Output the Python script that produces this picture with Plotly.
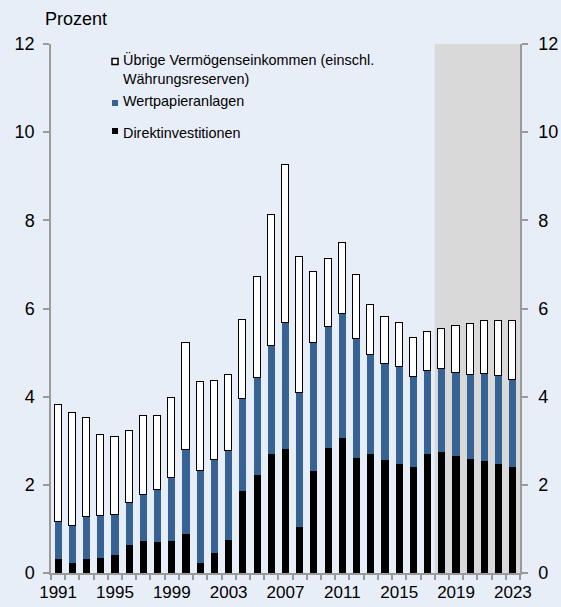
import plotly.graph_objects as go

years = list(range(1991, 2024))
direkt = [0.32, 0.23, 0.32, 0.35, 0.41, 0.63, 0.72, 0.70, 0.72, 0.88, 0.23, 0.45, 0.76,
          1.86, 2.23, 2.69, 2.82, 1.05, 2.31, 2.84, 3.07, 2.61, 2.70, 2.57, 2.48, 2.41,
          2.69, 2.74, 2.66, 2.59, 2.54, 2.48, 2.40]
wertpapier = [0.83, 0.83, 0.94, 0.95, 0.90, 0.95, 1.05, 1.19, 1.43, 1.90, 2.09, 2.11, 2.00,
              2.09, 2.20, 2.45, 2.84, 3.03, 2.91, 2.74, 2.81, 2.70, 2.24, 2.18, 2.19, 2.04,
              1.89, 1.89, 1.87, 1.90, 1.97, 1.98, 1.98]
uebrige = [2.65, 2.58, 2.26, 1.82, 1.78, 1.64, 1.79, 1.67, 1.81, 2.44, 2.02, 1.80, 1.74,
           1.79, 2.29, 2.97, 3.59, 3.09, 1.60, 1.55, 1.60, 1.44, 1.15, 1.06, 1.01, 0.89,
           0.89, 0.91, 1.08, 1.16, 1.20, 1.26, 1.33]
tick_years = [1991, 1995, 1999, 2003, 2007, 2011, 2015, 2019, 2023]
y_ticks = [0, 2, 4, 6, 8, 10, 12]
shade_start, shade_end = 2017.5, 2023.5

legend_labels = ["Übrige Vermögenseinkommen (einschl.<br>Währungsreserven)",
                 "Wertpapieranlagen", "Direktinvestitionen"]

BG = "#E8EEF7"
BLUE = "#376294"
AXC = "#9A9A9A"
FONT = "Liberation Sans, Arial, sans-serif"

fig = go.Figure()
fig.add_bar(x=years, y=direkt, marker=dict(color="#000000", line=dict(width=0)), width=0.5,
            name="Direktinvestitionen", showlegend=False)
fig.add_bar(x=years, y=wertpapier, marker=dict(color=BLUE, line=dict(width=0)), width=0.5,
            name="Wertpapieranlagen", showlegend=False)
fig.add_bar(x=years, y=uebrige, marker=dict(color="#FFFFFF", line=dict(width=1.5, color="#000000")),
            width=0.5, name="Übrige", showlegend=False)
# empty helper trace so the right-hand axis is drawn
fig.add_scatter(x=[None], y=[None], yaxis="y2", mode="markers", showlegend=False, hoverinfo="skip")

L, R, T, B = 51, 41, 44, 34
W, H = 561, 607
pw, ph = W - L - R, H - T - B

def px(x):
    return (x - L) / pw

def py(y):
    return (H - B - y) / ph

fig.add_shape(type="rect", xref="x", yref="y", x0=shade_start, x1=shade_end, y0=0, y1=12,
              fillcolor="#D9D9D9", line=dict(width=0), layer="below")

# legend (manual)
leg_items = [(61.5, "#FFFFFF", 1.5), (103, BLUE, 0), (131, "#000000", 0)]
text_y = [69, 100.5, 132.5]
for (cy, col, lw), ty, lab in zip(leg_items, text_y, legend_labels):
    fig.add_shape(type="rect", xref="paper", yref="paper",
                  x0=px(112), x1=px(118), y0=py(cy + 3), y1=py(cy - 3),
                  fillcolor=col, line=dict(width=lw, color="#000000"))
    fig.add_annotation(xref="paper", yref="paper", x=px(121), y=py(ty), text=lab,
                       showarrow=False, xanchor="left", yanchor="middle", align="left",
                       font=dict(size=14.4, color="#000000", family=FONT))

fig.add_annotation(xref="paper", yref="paper", x=px(43), y=py(19), text="Prozent",
                   showarrow=False, xanchor="left", yanchor="middle",
                   font=dict(size=18, color="#000000", family=FONT))

fig.update_layout(
    width=W, height=H, margin=dict(l=L, r=R, t=T, b=B, autoexpand=False),
    paper_bgcolor=BG, plot_bgcolor=BG, barmode="stack", bargap=0,
    font=dict(family=FONT, color="#000000"),
    xaxis=dict(range=[1990.5, 2023.5], tickvals=tick_years, ticktext=[str(y) for y in tick_years],
               ticks="outside", ticklen=0, showgrid=False, zeroline=False, automargin=False,
               showline=True, linecolor=AXC, linewidth=1.5, ticklabelstandoff=3,
               tickfont=dict(size=17, family=FONT, color="#000000"),
               minor=dict(tick0=0.5, dtick=1, ticks="outside", ticklen=5, tickcolor=AXC, tickwidth=1.5,
                          showgrid=False)),
    yaxis=dict(range=[0, 12], tickvals=y_ticks, ticks="outside", ticklen=6, tickcolor=AXC, tickwidth=1.5,
               showgrid=False, zeroline=False, showline=True, linecolor=AXC, linewidth=1.5,
               automargin=False,
               tickfont=dict(size=18, family=FONT, color="#000000"), ticklabelstandoff=5),
    yaxis2=dict(range=[0, 12], tickvals=y_ticks, ticks="outside", ticklen=6, tickcolor=AXC, tickwidth=1.5,
                overlaying="y", side="right", anchor="x", automargin=False,
                showgrid=False, zeroline=False, showline=True, linecolor=AXC, linewidth=1.5,
                tickfont=dict(size=18, family=FONT, color="#000000"), ticklabelstandoff=7),
)

fig.write_html(
    "out.html",
    config={"displayModeBar": False},
    post_script=("document.body.style.margin='0';"
                 "document.body.style.overflow='hidden';"
                 "document.documentElement.style.overflow='hidden';"),
)
